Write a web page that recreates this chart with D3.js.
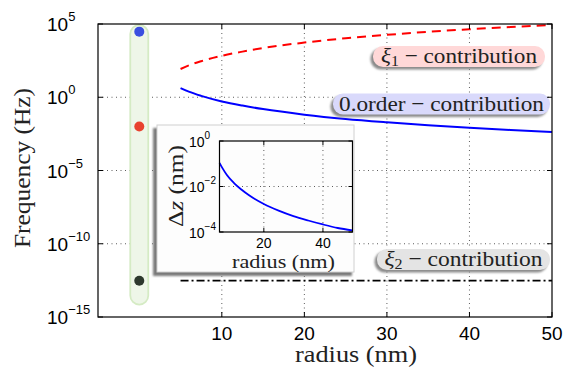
<!DOCTYPE html>
<html><head><meta charset="utf-8">
<script src="https://cdn.jsdelivr.net/npm/d3@7"></script>
<style>body{margin:0;background:#fff}svg{display:block}</style>
</head><body>
<svg id="c" width="571" height="371"></svg>
<script>
// ---- data ----
const radius      = [5, 6, 7.5, 10, 12.5, 15, 20, 25, 30, 35, 40, 45, 50];
const xi1Freq     = [85, 150, 290, 680, 1300, 2300, 5400, 10700, 18200, 29500, 43600, 62000, 85000];
const zeroFreq    = [4.2, 2.4, 1.24, 0.52, 0.27, 0.155, 0.065, 0.033, 0.0195, 0.0123, 0.0082, 0.0058, 0.0042];
const xi2Radius   = [5, 50];
const xi2Freq     = [3e-13, 3e-13];
const dotFreq     = [3e4, 0.01, 3e-13];
const dotColors   = ["#3b4fe0", "#e8422f", "#2d382d"];
const xTicks      = [10, 20, 30, 40, 50];
const yTickExp    = [-15, -10, -5, 0, 5];
const labels      = ["ξ1", "0.order", "ξ2"];
const insetRadius = [5, 6, 7.5, 10, 12.5, 15, 20, 25, 30, 35, 40, 45, 50];
const insetDz     = [0.11, 0.064, 0.032, 0.0138, 0.0072, 0.0041, 0.0017, 0.00087, 0.0005, 0.00032, 0.000214, 0.00015, 0.000117];
const insetXTicks = [20, 40];
const insetYExp   = [-4, -2, 0];

const svg = d3.select("#c");
const L = 98, R = 552, T = 24, B = 317;
const x = d3.scaleLinear().domain([-5, 50]).range([L, R]);
const y = d3.scaleLog().domain([1e-15, 1e5]).range([B, T]);
const sans = "'Liberation Sans', Arial, sans-serif";
const serif = "'Liberation Serif', serif";

const defs = svg.append("defs");
const f = defs.append("filter").attr("id","sh").attr("x","-20%").attr("y","-40%").attr("width","140%").attr("height","180%");
f.append("feGaussianBlur").attr("stdDeviation", 1.2);
const clip = defs.append("clipPath").attr("id","pc");
clip.append("rect").attr("x",L).attr("y",T).attr("width",R-L).attr("height",B-T);

function serifText(sel, len) {
  return sel.attr("font-family", serif).attr("textLength", len).attr("lengthAdjust", "spacingAndGlyphs").attr("fill", "#222");
}

// grid
const g = svg.append("g");
xTicks.filter(t => t < 50).forEach(t => {
  g.append("line").attr("x1", x(t)).attr("x2", x(t)).attr("y1", T).attr("y2", B)
   .attr("stroke", "#333").attr("stroke-width", 0.8).attr("stroke-dasharray", "1,3.5");
});
yTickExp.filter(e => e > -15 && e < 5).forEach(e => {
  g.append("line").attr("x1", L).attr("x2", R).attr("y1", y(Math.pow(10, e))).attr("y2", y(Math.pow(10, e)))
   .attr("stroke", "#333").attr("stroke-width", 0.8).attr("stroke-dasharray", "1,3.5");
});

// capsule
const capTop = y(1e5) + 1, capBot = y(Math.pow(10, -14.15));
svg.append("rect").attr("x", x(0) - 9).attr("y", capTop).attr("width", 18).attr("height", capBot - capTop)
  .attr("rx", 9).attr("fill", "#eef6e8").attr("stroke", "#d5ebc4").attr("stroke-width", 1.8);
svg.selectAll(".dot").data(dotFreq).enter().append("circle")
  .attr("cx", x(0)).attr("cy", d => y(d)).attr("r", 5).attr("fill", (d, i) => dotColors[i]);

// lines
const line = d3.line().x(d => x(d[0])).y(d => y(d[1])).curve(d3.curveMonotoneX);
const pg = svg.append("g").attr("clip-path", "url(#pc)");
pg.append("path").attr("d", line(d3.zip(radius, xi1Freq))).attr("fill","none")
  .attr("stroke", "#ff0000").attr("stroke-width", 2).attr("stroke-dasharray", "9,6");
pg.append("path").attr("d", line(d3.zip(radius, zeroFreq))).attr("fill","none")
  .attr("stroke", "#0000ff").attr("stroke-width", 2);
pg.append("path").attr("d", line(d3.zip(xi2Radius, xi2Freq))).attr("fill","none")
  .attr("stroke", "#000").attr("stroke-width", 1.8).attr("stroke-dasharray", "8,3,2,3");

// label boxes
const boxes = [
  {x0: 373, x1: 545, yc: 56.5, fill: "#ffd8d8", txt: labels[0], sub: true, len: 156},
  {x0: 333, x1: 550, yc: 104, fill: "#d9d9fb", txt: labels[1], sub: false, len: 205},
  {x0: 377, x1: 550, yc: 259.5, fill: "#e4e4e4", txt: labels[2], sub: true, len: 158}
];
boxes.forEach(b => {
  const h = 21;
  svg.append("rect").attr("x", b.x0 - 2.5).attr("y", b.yc - h/2 + 2.5).attr("width", b.x1 - b.x0).attr("height", h)
    .attr("rx", 10).attr("fill", "#8a8a8a").attr("filter", "url(#sh)");
  svg.append("rect").attr("x", b.x0).attr("y", b.yc - h/2).attr("width", b.x1 - b.x0).attr("height", h)
    .attr("rx", 10).attr("fill", b.fill);
  const t = serifText(svg.append("text").attr("x", (b.x0 + b.x1)/2 - b.len/2).attr("y", b.yc + 6.5), b.len)
    .attr("font-size", 22);
  if (b.sub) {
    t.append("tspan").text(b.txt[0]).attr("font-style", "italic");
    t.append("tspan").text(b.txt[1]).attr("font-size", 15).attr("dy", 3);
    t.append("tspan").text(" − contribution").attr("dy", -3);
  } else {
    t.append("tspan").text(b.txt + " − contribution");
  }
});

// axes frame and ticks
svg.append("rect").attr("x", L).attr("y", T).attr("width", R-L).attr("height", B-T)
  .attr("fill","none").attr("stroke","#000").attr("stroke-width", 1.2);
const tk = 5;
xTicks.forEach(t => {
  svg.append("line").attr("x1", x(t)).attr("x2", x(t)).attr("y1", B).attr("y2", B - tk).attr("stroke","#000");
  svg.append("line").attr("x1", x(t)).attr("x2", x(t)).attr("y1", T).attr("y2", T + tk).attr("stroke","#000");
  svg.append("text").attr("x", x(t)).attr("y", 340).attr("text-anchor","middle")
    .attr("font-family", sans).attr("font-size", 19).text(t);
});
yTickExp.forEach(e => {
  const yy = y(Math.pow(10, e));
  svg.append("line").attr("x1", L).attr("x2", L + tk).attr("y1", yy).attr("y2", yy).attr("stroke","#000");
  svg.append("line").attr("x1", R).attr("x2", R - tk).attr("y1", yy).attr("y2", yy).attr("stroke","#000");
  const t = svg.append("text").attr("x", 47).attr("y", yy + 7).attr("font-family", sans).attr("font-size", 19);
  t.append("tspan").text("10");
  t.append("tspan").text(e < 0 ? "−" + (-e) : e).attr("font-size", 13).attr("dy", -10);
});
serifText(svg.append("text").attr("x", 295).attr("y", 362), 122).attr("font-size", 23).text("radius (nm)");
serifText(svg.append("text").attr("transform", "translate(30,248) rotate(-90)"), 160)
  .attr("font-size", 23).text("Frequency (Hz)");

// inset
const iL = 219.5, iR = 352.5, iT = 141, iB = 232;
const ix = d3.scaleLinear().domain([5, 50]).range([iL, iR]);
const iy = d3.scaleLog().domain([1e-4, 1]).range([iB, iT]);
svg.append("rect").attr("x", 153).attr("y", 128).attr("width", 199).attr("height", 148)
  .attr("fill", "#7a7a7a").attr("filter", "url(#sh)");
svg.append("rect").attr("x", 157).attr("y", 125).attr("width", 197).attr("height", 147)
  .attr("fill", "#fdfdfd").attr("stroke", "#d0d0d0").attr("stroke-width", 1);
insetXTicks.forEach(t => {
  svg.append("line").attr("x1", ix(t)).attr("x2", ix(t)).attr("y1", iT).attr("y2", iB)
    .attr("stroke", "#333").attr("stroke-width", 0.8).attr("stroke-dasharray", "1,3.5");
});
svg.append("line").attr("x1", iL).attr("x2", iR).attr("y1", iy(1e-2)).attr("y2", iy(1e-2))
  .attr("stroke", "#333").attr("stroke-width", 0.8).attr("stroke-dasharray", "1,3.5");
const iline = d3.line().x(d => ix(d[0])).y(d => iy(d[1])).curve(d3.curveMonotoneX);
svg.append("path").attr("d", iline(d3.zip(insetRadius, insetDz))).attr("fill","none")
  .attr("stroke", "#0000ff").attr("stroke-width", 1.8);
svg.append("rect").attr("x", iL).attr("y", iT).attr("width", iR-iL).attr("height", iB-iT)
  .attr("fill","none").attr("stroke","#000").attr("stroke-width", 1.2);
insetXTicks.forEach(t => {
  svg.append("line").attr("x1", ix(t)).attr("x2", ix(t)).attr("y1", iB).attr("y2", iB - 4).attr("stroke","#000");
  svg.append("line").attr("x1", ix(t)).attr("x2", ix(t)).attr("y1", iT).attr("y2", iT + 4).attr("stroke","#000");
  svg.append("text").attr("x", ix(t)).attr("y", 248).attr("text-anchor","middle")
    .attr("font-family", sans).attr("font-size", 14).text(t);
});
insetYExp.forEach(e => {
  const yy = iy(Math.pow(10, e));
  svg.append("line").attr("x1", iL).attr("x2", iL + 4).attr("y1", yy).attr("y2", yy).attr("stroke","#000");
  svg.append("line").attr("x1", iR).attr("x2", iR - 4).attr("y1", yy).attr("y2", yy).attr("stroke","#000");
  const t = svg.append("text").attr("x", 189).attr("y", yy + 5.5).attr("font-family", sans).attr("font-size", 14);
  t.append("tspan").text("10");
  t.append("tspan").text(e < 0 ? "−" + (-e) : e).attr("font-size", 10).attr("dy", -8);
});
serifText(svg.append("text").attr("x", 232).attr("y", 268), 103).attr("font-size", 19).text("radius (nm)");
const dz = serifText(svg.append("text").attr("transform", "translate(183,227) rotate(-90)"), 82).attr("font-size", 20);
dz.append("tspan").text("Δ");
dz.append("tspan").text("z").attr("font-style","italic");
dz.append("tspan").text(" (nm)");
</script>
</body></html>
